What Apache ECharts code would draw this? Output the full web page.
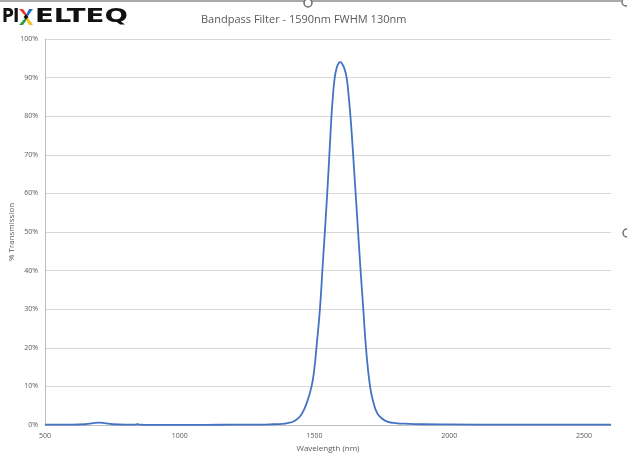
<!DOCTYPE html>
<html>
<head>
<meta charset="utf-8">
<script src="https://cdn.jsdelivr.net/npm/echarts@6/dist/echarts.min.js"></script>
<style>
  html, body { margin: 0; padding: 0; background: #fff; }
  #chart { width: 627px; height: 456px; }
</style>
</head>
<body>
<div id="chart"></div>
<script>
// wavelength (nm) and transmission (%)
const wavelength = [500, 600, 650, 680, 700, 720, 750, 800, 838, 843, 848, 900, 1000, 1100, 1200, 1300, 1350, 1380, 1400, 1422, 1440, 1454, 1470, 1489, 1500, 1507, 1520, 1530, 1541, 1552, 1562, 1568, 1574, 1582, 1590, 1596, 1602, 1610, 1619, 1627, 1636, 1647, 1659, 1670, 1681, 1691, 1706, 1720, 1733, 1750, 1770, 1800, 1850, 1900, 2000, 2200, 2400, 2600];
const transmission = [0.1, 0.1, 0.2, 0.5, 0.6, 0.5, 0.2, 0.1, 0.1, 0.3, 0.1, 0.05, 0.05, 0.05, 0.08, 0.1, 0.2, 0.3, 0.5, 0.9, 1.8, 3, 5.5, 10, 15, 20, 30, 41, 53, 66, 79, 85, 89.5, 92.5, 93.8, 94, 93.6, 92.5, 90, 85, 77.5, 66, 53, 41, 30, 20, 10, 5.5, 3, 1.7, 0.9, 0.5, 0.3, 0.2, 0.15, 0.1, 0.1, 0.1];

const chartTitle = 'Bandpass Filter - 1590nm FWHM 130nm';
const xName = 'Wavelength (nm)';
const yName = '% Transmission';

const labelColor = '#595959';
const chart = echarts.init(document.getElementById('chart'));

const option = {
    animation: false,
    title: {
        text: chartTitle,
        left: 196,
        top: 9,
        textStyle: { fontFamily: 'Open Sans', fontSize: 11, fontWeight: 'normal', color: labelColor }
    },
    grid: { left: 45, right: 16, top: 39, bottom: 31, outerBoundsMode: 'none', containLabel: false },
    xAxis: {
        type: 'value',
        min: 500,
        max: 2600,
        interval: 500,
        name: xName,
        nameLocation: 'middle',
        nameGap: 20,
        nameTextStyle: { fontFamily: 'Open Sans', fontSize: 8, color: labelColor },
        axisLine: { lineStyle: { color: '#bfbfbf' } },
        axisTick: { show: false },
        axisLabel: { showMaxLabel: false, formatter: v => String(v), fontFamily: 'Open Sans', fontSize: 7, color: labelColor, margin: 7 },
        splitLine: { show: false }
    },
    yAxis: {
        type: 'value',
        min: 0,
        max: 100,
        interval: 10,
        name: yName,
        nameLocation: 'middle',
        nameGap: 29,
        nameMoveOverlap: false,
        nameTextStyle: { fontFamily: 'Open Sans', fontSize: 8, color: labelColor },
        axisLine: { show: true, lineStyle: { color: '#bfbfbf' } },
        axisTick: { show: false },
        axisLabel: { formatter: '{value}%', fontFamily: 'Open Sans', fontSize: 7, color: labelColor, margin: 7 },
        splitLine: { lineStyle: { color: '#d9d9d9' } }
    },
    series: [{
        type: 'line',
        data: wavelength.map((w, i) => [w, transmission[i]]),
        smooth: 0.5,
        showSymbol: false,
        lineStyle: { color: '#4472c4', width: 1.8 }
    }],
    graphic: [
        // frame edge and selection handles of the original chart
        { type: 'line', shape: { x1: 0, y1: 1, x2: 621, y2: 1 }, style: { stroke: '#8c8c8c', lineWidth: 1.5 } },
        { type: 'circle', shape: { cx: 308, cy: 3, r: 4 }, style: { fill: '#fff', stroke: '#6e6e6e', lineWidth: 1.5 } },
        { type: 'circle', shape: { cx: 626, cy: 2, r: 4 }, style: { fill: '#fff', stroke: '#6e6e6e', lineWidth: 1.5 } },
        { type: 'circle', shape: { cx: 627, cy: 233, r: 4 }, style: { fill: '#fff', stroke: '#6e6e6e', lineWidth: 1.5 } },
        // logo
        {
            type: 'group', left: 2, top: 8,
            children: [
                { type: 'text', x: 0, y: 0, scaleX: 0.85, style: { text: 'P', fontFamily: 'DejaVu Sans', fontWeight: 'bold', fontSize: 19, fill: '#111' } },
                { type: 'text', x: 11, y: 0, scaleX: 0.9, style: { text: 'I', fontFamily: 'DejaVu Sans', fontWeight: 'bold', fontSize: 19, fill: '#111' } },
                { type: 'polygon', shape: { points: [[17, 1], [21, 1], [26, 8], [24, 9]] }, style: { fill: '#e53935' } },
                { type: 'polygon', shape: { points: [[27, 1], [31, 1], [26, 8], [24, 7]] }, style: { fill: '#1e6fd0' } },
                { type: 'polygon', shape: { points: [[17, 17], [21, 17], [26, 10], [24, 9]] }, style: { fill: '#2e9e44' } },
                { type: 'polygon', shape: { points: [[27, 17], [31, 17], [26, 10], [24, 11]] }, style: { fill: '#f2c21b' } },
                { type: 'polygon', shape: { points: [[24, 6.5], [26.5, 9], [24, 11.5], [21.5, 9]] }, style: { fill: '#111' } },
                { type: 'text', x: 33, y: 0, scaleX: 1.45, style: { text: 'ELTEQ', fontFamily: 'DejaVu Sans', fontWeight: 'bold', fontSize: 19, fill: '#111' } }
            ]
        }
    ]
};
chart.setOption(option);
window.addEventListener('resize', function () {
    chart.resize();
});
</script>
</body>
</html>
